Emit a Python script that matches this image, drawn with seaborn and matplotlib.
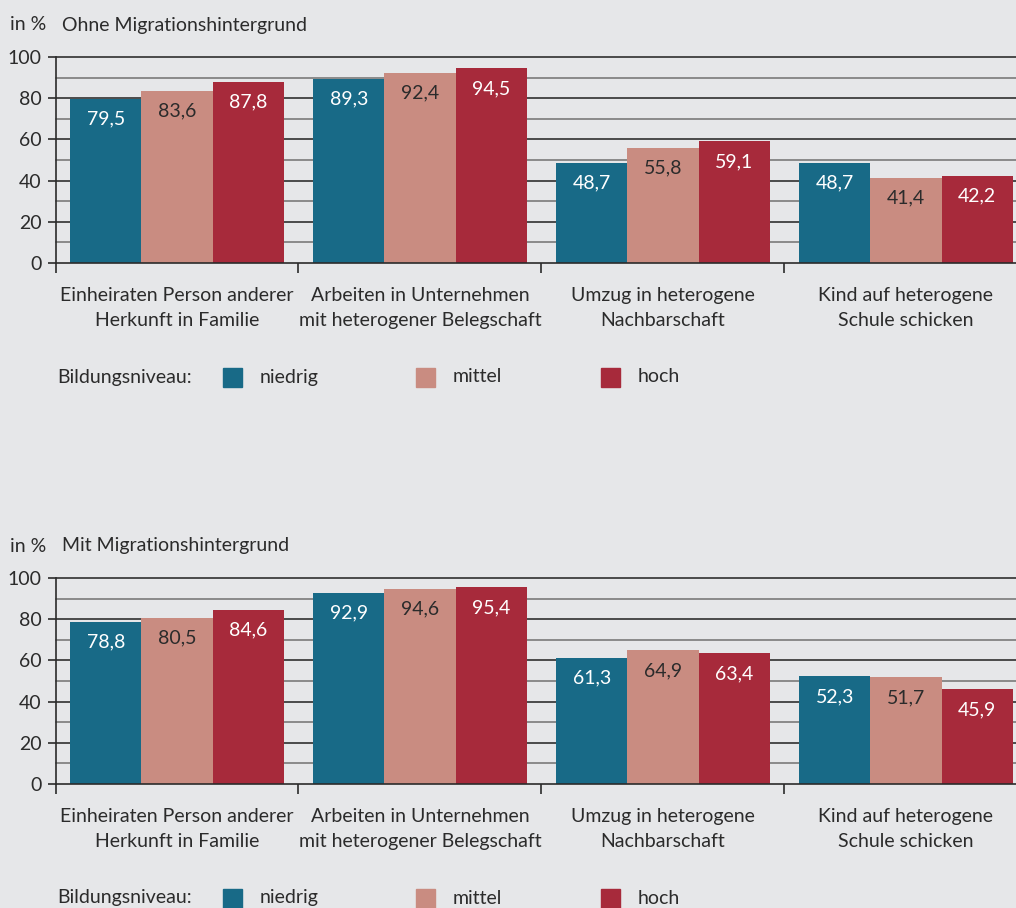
import matplotlib
matplotlib.use("Agg")
import matplotlib.pyplot as plt
import seaborn as sns
import pandas as pd
from matplotlib.patches import Rectangle

categories = ["Einheiraten Person anderer\nHerkunft in Familie",
              "Arbeiten in Unternehmen\nmit heterogener Belegschaft",
              "Umzug in heterogene\nNachbarschaft",
              "Kind auf heterogene\nSchule schicken"]
levels = ["niedrig", "mittel", "hoch"]

ohne_niedrig = [79.5, 89.3, 48.7, 48.7]
ohne_mittel = [83.6, 92.4, 55.8, 41.4]
ohne_hoch = [87.8, 94.5, 59.1, 42.2]

mit_niedrig = [78.8, 92.9, 61.3, 52.3]
mit_mittel = [80.5, 94.6, 64.9, 51.7]
mit_hoch = [84.6, 95.4, 63.4, 45.9]

yticks = [0, 20, 40, 60, 80, 100]
titles = ["Ohne Migrationshintergrund", "Mit Migrationshintergrund"]

BG = "#e6e7e9"
COLORS = ["#186a87", "#c98c81", "#a72a3b"]
LABEL_COLORS = ["white", "#2b2b2b", "white"]
TXT = "#2b2b2b"
FONT = "Lato"
FS = 14

sns.set_theme(style="white")
plt.rcParams["font.family"] = [FONT, "DejaVu Sans"]

W, H = 1016, 908
fig = plt.figure(figsize=(W / 100, H / 100), dpi=100, facecolor=BG)


def px_axes(left, top, right, bottom):
    return fig.add_axes([left / W, 1 - bottom / H, (right - left) / W, (bottom - top) / H])


def make_panel(top, title, series):
    bottom = top + 206
    ax = px_axes(55.5, top, 1027.5, bottom)
    ax.set_facecolor(BG)
    df = pd.DataFrame({
        "Kategorie": categories * 3,
        "Bildungsniveau": [lv for lv in levels for _ in categories],
        "Wert": series[0] + series[1] + series[2],
    })
    sns.barplot(data=df, x="Kategorie", y="Wert", hue="Bildungsniveau",
                hue_order=levels, order=categories, palette=COLORS,
                saturation=1, width=0.88, gap=0, ax=ax, legend=False,
                zorder=3, linewidth=0, edgecolor="none")
    ax.set_xlim(-0.5, 3.5)
    ax.set_ylim(0, 100)
    # grid lines
    for v in range(10, 101, 10):
        ax.axhline(v, color="#4a4a4a" if v % 20 == 0 else "#8a8a8a",
                   lw=1.4, zorder=1, clip_on=False)
    for sp in ["top", "right"]:
        ax.spines[sp].set_visible(False)
    for sp in ["left", "bottom"]:
        ax.spines[sp].set_color("#2b2b2b")
        ax.spines[sp].set_linewidth(1.2)
        ax.spines[sp].set_zorder(4)
    ax.set_yticks(yticks)
    ax.set_yticklabels([str(t) for t in yticks], fontsize=FS, color=TXT)
    ax.tick_params(axis="y", length=6, width=1.2, color="#2b2b2b", pad=4, left=True)
    ax.set_xticks([-0.5, 0.5, 1.5, 2.5])
    ax.set_xticklabels([])
    ax.tick_params(axis="x", which="major", length=7, width=1.2, color="#2b2b2b", bottom=True)
    ax.set_xticks(range(len(categories)), minor=True)
    ax.set_xticklabels(categories, minor=True, fontsize=FS, color=TXT, linespacing=1.62)
    ax.tick_params(axis="x", which="minor", length=0, pad=17)
    ax.set_xlabel("")
    ax.set_ylabel("")
    # value labels
    for cont, lc in zip(ax.containers, LABEL_COLORS):
        for bar in cont:
            h = bar.get_height()
            ax.annotate(f"{h:.1f}".replace(".", ","),
                        xy=(bar.get_x() + bar.get_width() / 2, h),
                        xytext=(0, -14.5), textcoords="offset points",
                        ha="center", va="center", fontsize=FS, color=lc, zorder=5)
    # title
    fig.text(10 / W, 1 - (top - 32) / H, "in %", fontsize=FS, color=TXT, va="center", ha="left")
    fig.text(62 / W, 1 - (top - 32) / H, title, fontsize=FS, color=TXT, va="center", ha="left")
    # legend
    ly = bottom + 114
    fig.text(57 / W, 1 - ly / H, "Bildungsniveau:", fontsize=FS, color=TXT, va="center", ha="left")
    for (sx, tx), col, lv in zip([(223, 260), (416, 453), (601, 638)], COLORS, levels):
        fig.patches.append(Rectangle((sx / W, 1 - (ly + 9.5) / H), 19 / W, 19 / H,
                                     transform=fig.transFigure, color=col, figure=fig))
        fig.text(tx / W, 1 - ly / H, lv, fontsize=FS, color=TXT, va="center", ha="left")
    return ax


make_panel(57, titles[0], [ohne_niedrig, ohne_mittel, ohne_hoch])
make_panel(578, titles[1], [mit_niedrig, mit_mittel, mit_hoch])

fig.savefig("out.png", dpi=100, facecolor=BG)
